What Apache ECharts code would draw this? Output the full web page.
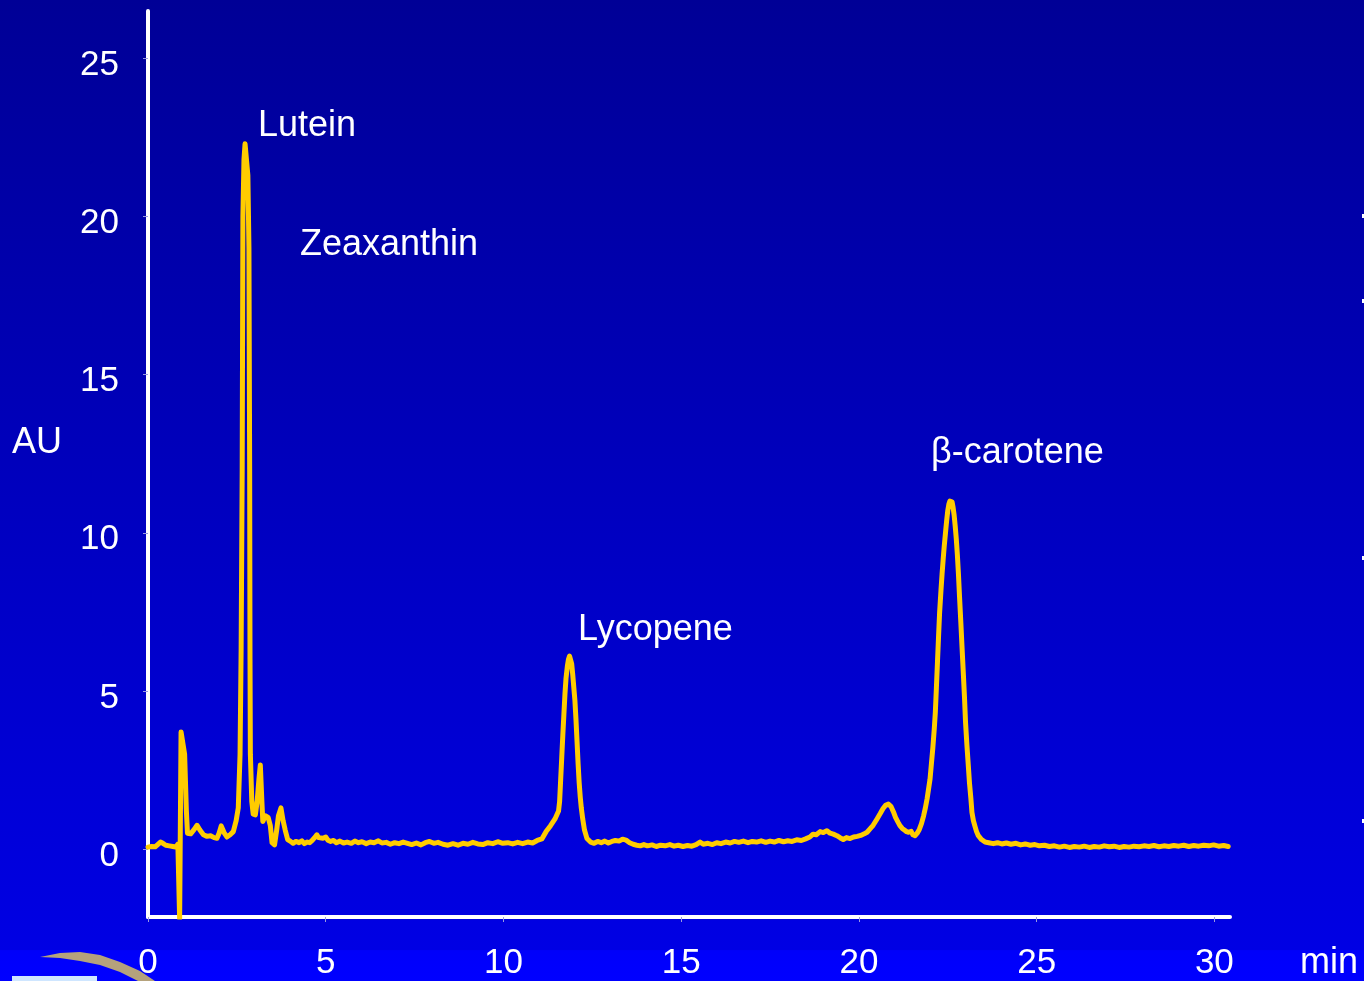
<!DOCTYPE html>
<html>
<head>
<meta charset="utf-8">
<script src="https://cdn.jsdelivr.net/npm/echarts@6.0.0/dist/echarts.min.js"></script>
<style>
html,body{margin:0;padding:0;background:#0000c0;}
#chart{width:1364px;height:981px;}
</style>
</head>
<body>
<div id="chart"></div>
<script>
// Chromatogram: [retention time (min), absorbance (AU)]
var chromatogram = [
 [0.00,0.06],[0.10,0.08],[0.20,0.07],[0.28,0.15],[0.35,0.22],[0.42,0.18],[0.50,0.12],[0.60,0.10],
 [0.70,0.08],[0.78,0.06],[0.84,0.15],[0.89,-2.2],[0.93,3.7],[1.03,3.0],[1.08,1.2],[1.11,0.5],
 [1.20,0.48],[1.30,0.62],[1.38,0.75],[1.46,0.60],[1.56,0.45],[1.66,0.40],[1.76,0.42],[1.86,0.36],
 [1.94,0.34],[2.00,0.50],[2.06,0.73],[2.14,0.52],[2.22,0.38],[2.31,0.45],[2.40,0.55],[2.48,0.90],
 [2.54,1.30],[2.59,3.0],[2.62,6.3],[2.65,12.0],[2.67,20.0],[2.70,21.8],[2.73,22.3],[2.77,21.8],
 [2.81,21.3],[2.84,19.0],[2.86,12.0],[2.87,6.0],[2.88,3.0],[2.92,1.5],[2.96,1.1],[3.02,1.08],
 [3.07,1.5],[3.12,2.2],[3.16,2.66],[3.20,1.6],[3.23,0.87],[3.30,1.05],[3.38,1.0],[3.44,0.75],
 [3.49,0.2],[3.56,0.13],[3.62,0.6],[3.67,1.05],[3.74,1.3],[3.80,0.9],[3.86,0.6],[3.93,0.3],
 [4.00,0.25],[4.08,0.18],[4.16,0.24],[4.25,0.20],[4.33,0.26],[4.40,0.17],[4.48,0.22],[4.55,0.20],
 [4.62,0.27],[4.68,0.35],[4.75,0.45],[4.80,0.36],[4.85,0.30],[4.92,0.34],[5.00,0.38],[5.06,0.28],
 [5.14,0.24],[5.22,0.27],[5.30,0.20],[5.40,0.25],[5.50,0.19],[5.60,0.22],[5.72,0.18],[5.82,0.25],
 [5.92,0.20],[6.02,0.23],[6.14,0.17],[6.25,0.22],[6.36,0.20],[6.48,0.26],[6.58,0.19],[6.70,0.21],
 [6.82,0.15],[6.94,0.20],[7.06,0.17],[7.18,0.22],[7.30,0.18],[7.42,0.14],[7.55,0.19],[7.68,0.13],
 [7.80,0.20],[7.92,0.24],[8.04,0.18],[8.16,0.21],[8.30,0.15],[8.44,0.12],[8.58,0.17],[8.72,0.12],
 [8.86,0.18],[9.00,0.15],[9.14,0.21],[9.28,0.16],[9.42,0.14],[9.56,0.20],[9.70,0.17],[9.84,0.23],
 [9.98,0.18],[10.12,0.20],[10.26,0.16],[10.40,0.21],[10.54,0.17],[10.68,0.22],[10.82,0.19],[10.95,0.27],
 [11.08,0.32],[11.20,0.55],[11.32,0.73],[11.45,0.95],[11.55,1.20],[11.58,1.5],[11.61,2.2],[11.64,2.9],
 [11.67,3.6],[11.70,4.25],[11.73,4.9],[11.76,5.4],[11.80,5.8],[11.83,6.0],[11.86,6.1],[11.89,6.05],
 [11.92,5.85],[11.95,5.5],[11.98,5.1],[12.01,4.7],[12.04,4.1],[12.07,3.4],[12.10,2.7],[12.13,2.1],
 [12.16,1.65],[12.19,1.3],[12.23,0.95],[12.28,0.6],[12.35,0.33],[12.45,0.22],[12.55,0.18],[12.65,0.24],
 [12.75,0.20],[12.85,0.25],[12.95,0.19],[13.05,0.24],[13.15,0.27],[13.25,0.25],[13.35,0.31],[13.45,0.28],
 [13.55,0.20],[13.65,0.15],[13.75,0.12],[13.85,0.10],[13.95,0.14],[14.05,0.10],[14.18,0.13],[14.30,0.08],
 [14.42,0.12],[14.55,0.10],[14.68,0.14],[14.80,0.09],[14.92,0.12],[15.05,0.08],[15.18,0.11],[15.30,0.09],
 [15.42,0.14],[15.53,0.22],[15.62,0.15],[15.75,0.18],[15.88,0.14],[16.00,0.20],[16.12,0.17],[16.25,0.22],
 [16.38,0.19],[16.50,0.24],[16.62,0.21],[16.75,0.25],[16.88,0.20],[17.00,0.24],[17.12,0.22],[17.25,0.26],
 [17.38,0.21],[17.50,0.25],[17.62,0.22],[17.75,0.27],[17.88,0.23],[18.00,0.26],[18.12,0.24],[18.25,0.29],
 [18.38,0.27],[18.50,0.32],[18.62,0.38],[18.71,0.47],[18.80,0.45],[18.91,0.55],[19.00,0.52],[19.10,0.58],
 [19.19,0.50],[19.28,0.47],[19.38,0.42],[19.48,0.35],[19.56,0.30],[19.65,0.36],[19.75,0.33],[19.85,0.38],
 [19.95,0.40],[20.05,0.43],[20.15,0.48],[20.23,0.53],[20.30,0.62],[20.40,0.75],[20.51,0.95],[20.60,1.12],
 [20.68,1.28],[20.75,1.38],[20.83,1.42],[20.90,1.35],[20.97,1.18],[21.03,1.00],[21.10,0.85],[21.16,0.73],
 [21.22,0.65],[21.28,0.60],[21.34,0.55],[21.40,0.53],[21.47,0.56],[21.52,0.45],[21.58,0.42],[21.64,0.50],
 [21.70,0.62],[21.76,0.80],[21.82,1.05],[21.87,1.3],[21.92,1.6],[21.96,1.9],[22.00,2.2],[22.04,2.7],
 [22.08,3.2],[22.12,3.8],[22.15,4.32],[22.18,5.1],[22.21,5.9],[22.24,6.7],[22.27,7.47],[22.31,8.2],
 [22.34,8.7],[22.37,9.15],[22.40,9.57],[22.44,10.05],[22.47,10.4],[22.50,10.7],[22.53,10.9],[22.56,11.0],
 [22.59,11.04],[22.62,10.98],[22.65,10.8],[22.68,10.55],[22.71,10.2],[22.74,9.8],[22.77,9.3],[22.80,8.7],
 [22.83,8.0],[22.87,7.1],[22.90,6.41],[22.94,5.5],[22.97,4.8],[23.00,4.0],[23.04,3.26],[23.08,2.6],
 [23.11,2.1],[23.15,1.6],[23.18,1.16],[23.22,0.9],[23.27,0.70],[23.31,0.55],[23.36,0.42],[23.45,0.30],
 [23.55,0.22],[23.65,0.20],[23.78,0.17],[23.90,0.20],[24.02,0.16],[24.15,0.19],[24.28,0.15],[24.42,0.18],
 [24.55,0.13],[24.68,0.16],[24.82,0.12],[24.95,0.14],[25.08,0.10],[25.22,0.12],[25.36,0.08],[25.50,0.10],
 [25.64,0.06],[25.78,0.09],[25.92,0.05],[26.06,0.08],[26.20,0.06],[26.34,0.09],[26.48,0.05],[26.62,0.08],
 [26.76,0.06],[26.90,0.10],[27.04,0.07],[27.18,0.09],[27.32,0.05],[27.46,0.08],[27.60,0.06],[27.74,0.09],
 [27.88,0.07],[28.02,0.10],[28.16,0.08],[28.30,0.11],[28.44,0.07],[28.58,0.10],[28.72,0.08],[28.86,0.11],
 [29.00,0.09],[29.14,0.12],[29.28,0.08],[29.42,0.11],[29.56,0.09],[29.70,0.12],[29.84,0.10],[29.98,0.13],
 [30.12,0.09],[30.26,0.11],[30.39,0.08]
];
var xTicks = [0, 5, 10, 15, 20, 25, 30];
var yTicks = [0, 5, 10, 15, 20, 25];
var peakNames = ['Lutein', 'Zeaxanthin', 'Lycopene', 'β-carotene'];
var xAxisName = 'min';
var yAxisName = 'AU';

var chart = echarts.init(document.getElementById('chart'), null, {renderer: 'canvas'});
var FONT = '"Liberation Sans", Arial, sans-serif';

function txt(text, x, y) {
  return {
    type: 'text', x: x, y: y, z: 10,
    style: { text: text, fill: '#ffffff', font: '36px ' + FONT, align: 'left', verticalAlign: 'middle' }
  };
}

chart.setOption({
  backgroundColor: {
    type: 'linear', x: 0, y: 0, x2: 0, y2: 1,
    colorStops: [
      {offset: 0, color: '#000096'},
      {offset: 0.968, color: '#0000e4'},
      {offset: 0.969, color: '#0000fa'},
      {offset: 1, color: '#0000ff'}
    ]
  },
  animation: false,
  grid: { left: 148, right: 134, top: 11, bottom: 61.5, containLabel: false },
  xAxis: {
    type: 'value', min: 0, max: 30.44,
    axisLine: { show: true, onZero: false, lineStyle: { color: '#ffffff', width: 4 } },
    axisTick: { show: true, customValues: xTicks, length: 5, lineStyle: { color: '#9a9ae0', width: 1 } },
    axisLabel: { customValues: xTicks, color: '#ffffff', fontSize: 35, fontFamily: FONT, margin: 29 },
    splitLine: { show: false }
  },
  yAxis: {
    type: 'value', min: -2.15, max: 26.5,
    axisLine: { show: true, onZero: false, lineStyle: { color: '#ffffff', width: 4 } },
    axisTick: { show: true, customValues: yTicks, length: 5, lineStyle: { color: '#9a9ae0', width: 1 } },
    axisLabel: { customValues: yTicks, color: '#ffffff', fontSize: 35, fontFamily: FONT, margin: 29, verticalAlign: 'top', lineHeight: 14 },
    splitLine: { show: false }
  },
  series: [{
    type: 'line', data: chromatogram, showSymbol: false, smooth: false, clip: true,
    lineStyle: { color: '#ffcc00', width: 5, cap: 'round', join: 'round' }
  }],
  graphic: [
    txt(peakNames[0], 258, 126),
    txt(peakNames[1], 300, 245),
    txt(peakNames[2], 578, 630),
    txt(peakNames[3], 931, 453),
    txt(yAxisName, 12, 443),
    txt(xAxisName, 1300, 963),
    { type: 'polygon', z: 5, shape: { points: [[40,957],[60,953],[80,952],[100,955],[120,962],[140,971],[155,981],[138,981],[120,972],[100,965],[80,961],[60,958]] }, style: { fill: '#b5a27c' } },
    { type: 'rect', z: 5, shape: { x: 12, y: 976, width: 85, height: 5 }, style: { fill: '#cfe6ff' } },
    { type: 'rect', z: 5, shape: { x: 1362, y: 214, width: 2, height: 4 }, style: { fill: '#ffffff' } },
    { type: 'rect', z: 5, shape: { x: 1362, y: 299, width: 2, height: 4 }, style: { fill: '#ffffff' } },
    { type: 'rect', z: 5, shape: { x: 1362, y: 556, width: 2, height: 4 }, style: { fill: '#ffffff' } },
    { type: 'rect', z: 5, shape: { x: 1362, y: 819, width: 2, height: 4 }, style: { fill: '#ffffff' } }
  ]
});
</script>
</body>
</html>
